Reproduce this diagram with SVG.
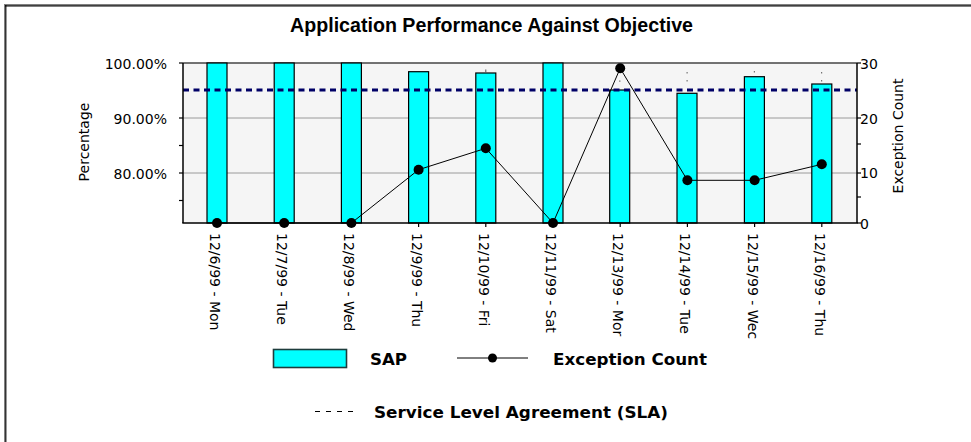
<svg xmlns="http://www.w3.org/2000/svg" width="971" height="442" viewBox="0 0 971 442">
  <style>
    .title { font-family: "Liberation Sans", Arial, sans-serif; font-weight: bold; font-size: 20px; fill: #000; }
    .tick { font-family: "DejaVu Sans", "Liberation Sans", sans-serif; font-size: 14px; fill: #000; }
    .axt { font-family: "DejaVu Sans", "Liberation Sans", sans-serif; font-size: 14px; fill: #000; }
    .cat { font-family: "DejaVu Sans", "Liberation Sans", sans-serif; font-size: 14px; fill: #000; }
    .leg { font-family: "DejaVu Sans", "Liberation Sans", sans-serif; font-weight: bold; font-size: 16px; fill: #000; }
    .bar { fill: #00ffff; stroke: #000; stroke-width: 1.2; }
    .grid { stroke: #9a9a9a; stroke-width: 1; }
    .axis { stroke: #000; stroke-width: 1.5; fill: none; }
    .tk { stroke: #000; stroke-width: 1.2; }
    .series { fill: none; stroke: #000; stroke-width: 1; }
    .dot { fill: #000; }
    .sla { stroke: #000066; stroke-width: 3; stroke-dasharray: 6 4.5; }
    .speck { fill: #555; }
  </style>

  <!-- page background and sunken frame (top/left edges) -->
  <rect x="0" y="0" width="971" height="442" fill="#fff"/>
  <g id="frame">
    <line x1="4" y1="4.5" x2="971" y2="4.5" stroke="#808080" stroke-width="1"/>
    <line x1="4.5" y1="4" x2="4.5" y2="442" stroke="#808080" stroke-width="1"/>
    <line x1="5" y1="5.8" x2="971" y2="5.8" stroke="#000" stroke-width="1.2"/>
    <line x1="5.8" y1="5" x2="5.8" y2="442" stroke="#000" stroke-width="1.2"/>
  </g>

  <text id="title" class="title" x="491.5" y="32" text-anchor="middle" textLength="403" lengthAdjust="spacingAndGlyphs">Application Performance Against Objective</text>

  <!-- plot area -->
  <g id="plot">
    <rect x="183" y="63" width="674" height="160" fill="#f5f5f5"/>
    <line class="grid" x1="183" y1="118" x2="857" y2="118"/>
    <line class="grid" x1="183" y1="173" x2="857" y2="173"/>
    <line x1="183" y1="63" x2="857" y2="63" stroke="#444" stroke-width="1.3"/>
  </g>

  <!-- percentage bars -->
  <g id="bars">
    <rect class="bar" x="207" y="63" width="20" height="160"/>
    <rect class="bar" x="274.2" y="63" width="20" height="160"/>
    <rect class="bar" x="341.4" y="63" width="20" height="160"/>
    <rect class="bar" x="408.6" y="71.7" width="20" height="151.3"/>
    <rect class="bar" x="475.8" y="73" width="20" height="150"/>
    <rect class="bar" x="543" y="63" width="20" height="160"/>
    <rect class="bar" x="609.7" y="90" width="20" height="133"/>
    <rect class="bar" x="677" y="93.3" width="20" height="129.7"/>
    <rect class="bar" x="744.4" y="76.7" width="20" height="146.3"/>
    <rect class="bar" x="811.8" y="84" width="20" height="139"/>
  </g>

  <!-- tiny value marks above some bars -->
  <g id="specks">
    <rect class="speck" x="485.3" y="69.5" width="1" height="3"/>
    <rect class="speck" x="619.2" y="80.5" width="1.2" height="1.2"/>
    <rect class="speck" x="686.5" y="72.2" width="1.2" height="1.2"/>
    <rect class="speck" x="686.5" y="80.2" width="1.2" height="1.2"/>
    <rect class="speck" x="753.8" y="71.2" width="1.2" height="1.2"/>
    <rect class="speck" x="821" y="72.2" width="1.2" height="1.2"/>
    <rect class="speck" x="821" y="80.2" width="1.2" height="1.2"/>
  </g>

  <!-- SLA objective line at 95% -->
  <line id="sla-line" class="sla" x1="183" y1="90" x2="857" y2="90"/>

  <!-- axes and ticks -->
  <g id="axes">
    <line class="axis" x1="183" y1="63" x2="183" y2="223"/>
    <line class="axis" x1="857" y1="63" x2="857" y2="223"/>
    <line class="axis" x1="182.3" y1="223" x2="857.7" y2="223"/>
    <line class="tk" x1="179" y1="63" x2="183" y2="63"/>
    <line class="tk" x1="179" y1="118" x2="183" y2="118"/>
    <line class="tk" x1="179" y1="173" x2="183" y2="173"/>
    <line class="tk" x1="179" y1="145.5" x2="183" y2="145.5"/>
    <line class="tk" x1="179" y1="200.5" x2="183" y2="200.5"/>
    <line class="tk" x1="857" y1="63" x2="861" y2="63"/>
    <line class="tk" x1="857" y1="118" x2="861" y2="118"/>
    <line class="tk" x1="857" y1="173" x2="861" y2="173"/>
    <line class="tk" x1="857" y1="223" x2="861" y2="223"/>
    <line class="tk" x1="857" y1="144" x2="861" y2="144"/>
    <line class="tk" x1="857" y1="197" x2="861" y2="197"/>
    <line class="tk" x1="217" y1="223" x2="217" y2="227"/>
    <line class="tk" x1="284.2" y1="223" x2="284.2" y2="227"/>
    <line class="tk" x1="351.4" y1="223" x2="351.4" y2="227"/>
    <line class="tk" x1="418.6" y1="223" x2="418.6" y2="227"/>
    <line class="tk" x1="485.8" y1="223" x2="485.8" y2="227"/>
    <line class="tk" x1="553" y1="223" x2="553" y2="227"/>
    <line class="tk" x1="620.2" y1="223" x2="620.2" y2="227"/>
    <line class="tk" x1="687.4" y1="223" x2="687.4" y2="227"/>
    <line class="tk" x1="754.6" y1="223" x2="754.6" y2="227"/>
    <line class="tk" x1="821.8" y1="223" x2="821.8" y2="227"/>
  </g>

  <!-- exception count series -->
  <g id="exceptions">
    <polyline class="series" points="217,223 284.2,223 351.4,223 418.6,169.7 485.8,148.3 553,223 620.2,68.3 687.4,180.3 754.6,180.3 821.8,164.3"/>
    <circle class="dot" cx="217" cy="223" r="5"/>
    <circle class="dot" cx="284.2" cy="223" r="5"/>
    <circle class="dot" cx="351.4" cy="223" r="5"/>
    <circle class="dot" cx="418.6" cy="169.7" r="5"/>
    <circle class="dot" cx="485.8" cy="148.3" r="5"/>
    <circle class="dot" cx="553" cy="223" r="5"/>
    <circle class="dot" cx="620.2" cy="68.3" r="5"/>
    <circle class="dot" cx="687.4" cy="180.3" r="5"/>
    <circle class="dot" cx="754.6" cy="180.3" r="5"/>
    <circle class="dot" cx="821.8" cy="164.3" r="5"/>
  </g>

  <!-- left axis labels -->
  <g id="left-axis-labels">
    <text class="tick" x="167" y="68.5" text-anchor="end">100.00%</text>
    <text class="tick" x="167" y="123.5" text-anchor="end">90.00%</text>
    <text class="tick" x="167" y="178.5" text-anchor="end">80.00%</text>
    <text class="axt" transform="translate(88.5,142) rotate(-90)" text-anchor="middle">Percentage</text>
  </g>

  <!-- right axis labels -->
  <g id="right-axis-labels">
    <text class="tick" x="860" y="68.5">30</text>
    <text class="tick" x="860" y="123.5">20</text>
    <text class="tick" x="860" y="178">10</text>
    <text class="tick" x="860" y="228.5">0</text>
    <text class="axt" transform="translate(903,136) rotate(-90)" text-anchor="middle">Exception Count</text>
  </g>

  <!-- category labels -->
  <g id="category-labels">
    <text class="cat" transform="translate(210,233) rotate(90)">12/6/99 - Mon</text>
    <text class="cat" transform="translate(277.2,233) rotate(90)">12/7/99 - Tue</text>
    <text class="cat" transform="translate(344.4,233) rotate(90)">12/8/99 - Wed</text>
    <text class="cat" transform="translate(411.6,233) rotate(90)">12/9/99 - Thu</text>
    <text class="cat" transform="translate(478.8,233) rotate(90)">12/10/99 - Fri</text>
    <text class="cat" transform="translate(546,233) rotate(90)">12/11/99 - Sat</text>
    <text class="cat" transform="translate(613.2,233) rotate(90)">12/13/99 - Mor</text>
    <text class="cat" transform="translate(680.4,233) rotate(90)">12/14/99 - Tue</text>
    <text class="cat" transform="translate(747.6,233) rotate(90)">12/15/99 - Wec</text>
    <text class="cat" transform="translate(814.8,233) rotate(90)">12/16/99 - Thu</text>
  </g>

  <!-- legend -->
  <g id="legend-sap">
    <rect x="273.5" y="349.5" width="73" height="18" fill="#00ffff" stroke="#1e3c3c" stroke-width="1.6"/>
    <text class="leg" x="370" y="365" textLength="37" lengthAdjust="spacingAndGlyphs">SAP</text>
  </g>
  <g id="legend-exceptions">
    <line x1="457" y1="358" x2="528" y2="358" stroke="#000" stroke-width="1"/>
    <circle class="dot" cx="492.5" cy="358" r="4.5"/>
    <text class="leg" x="553" y="365" textLength="154" lengthAdjust="spacingAndGlyphs">Exception Count</text>
  </g>
  <g id="legend-sla">
    <line x1="315" y1="411.5" x2="354" y2="411.5" stroke="#000" stroke-width="1" stroke-dasharray="5 6"/>
    <text class="leg" x="374" y="417.5" textLength="294" lengthAdjust="spacingAndGlyphs">Service Level Agreement (SLA)</text>
  </g>
</svg>
